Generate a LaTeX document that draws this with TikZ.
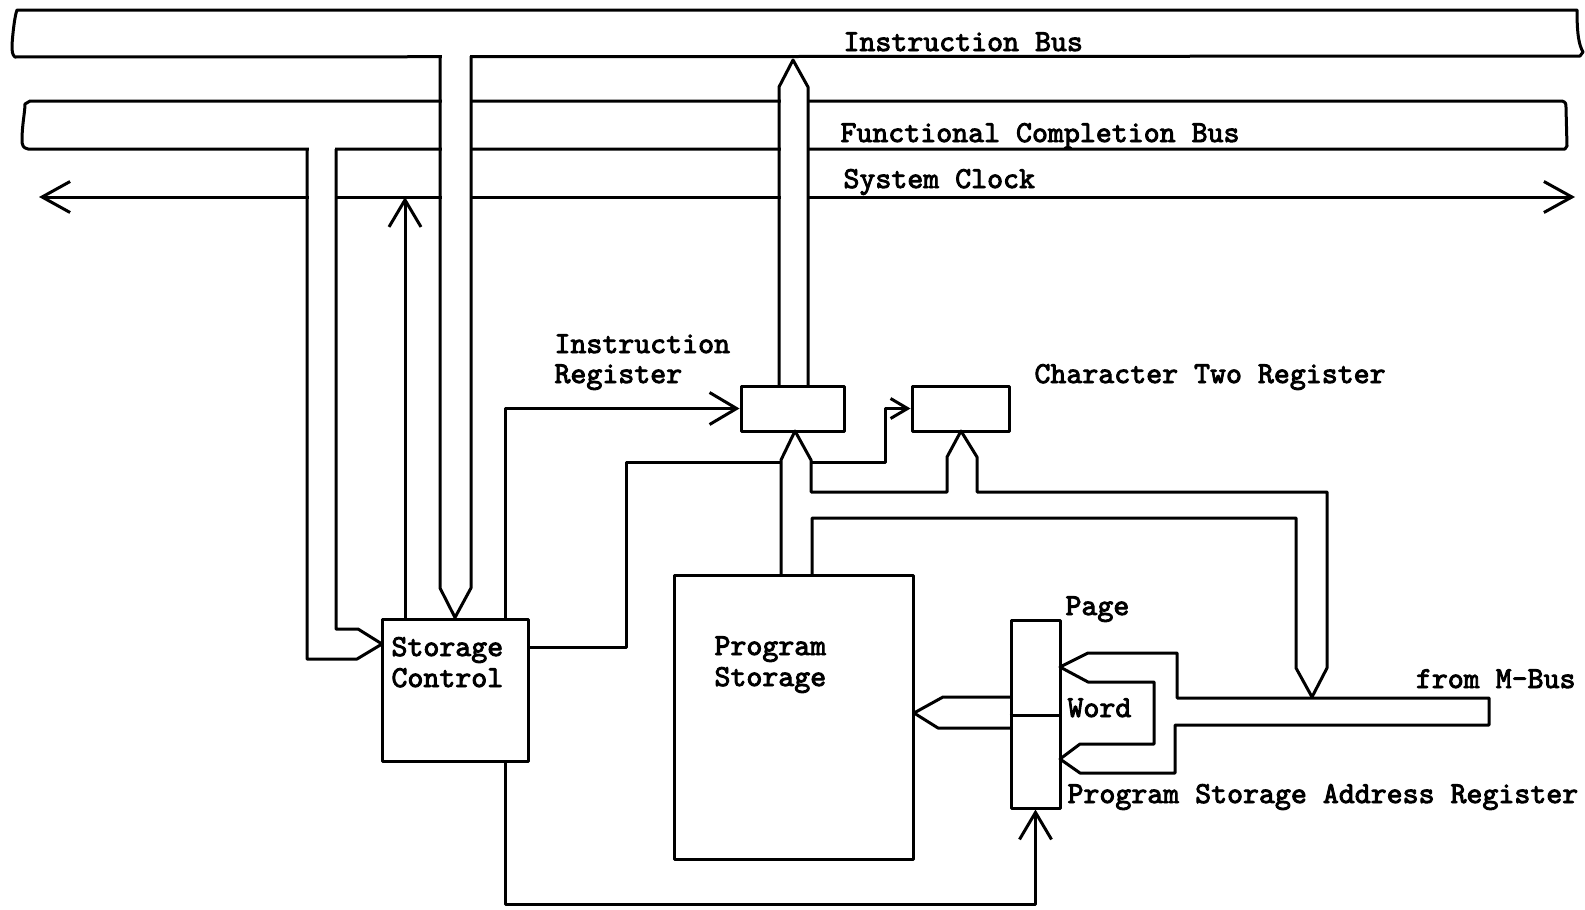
\documentclass[tikz,border=0pt]{standalone}
\usepackage{fontspec}
\usetikzlibrary{arrows.meta}
\newfontfamily\lblff{lmmono10-regular.otf}[FakeBold=3]
\newcommand{\lblfont}{\fontsize{30.4}{31}\selectfont\lblff}
\begin{document}
\begin{tikzpicture}[x=1pt,y=-1pt,line width=3pt,line join=round,
  box/.style={draw,inner sep=0pt,fill=white},
  lbl/.style={inner sep=0pt,anchor=base west,font=\lblfont},
  barb/.style={-{Straight Barb[length=27pt,width=32pt]}},
  smallbarb/.style={-{Straight Barb[length=17pt,width=20pt]}},
  clk/.style={{Straight Barb[length=28pt,width=31pt]}-{Straight Barb[length=28pt,width=31pt]}}]
\useasboundingbox (0,0) rectangle (1585,910);
% ---- horizontal buses
\draw (17,10) -- (1577,10) .. controls (1577,35) and (1579,45) .. (1583,52) -- (1580,56) -- (15,57)
  .. controls (12,55) and (12,50) .. (12,45) .. controls (13,30) and (15,15) .. (17,10) -- cycle;
\draw (30,101) -- (1562,101) .. controls (1566,102) and (1566,104) .. (1566,108) -- (1567,146) -- (1565,149)
  -- (28,149) .. controls (23,148) and (22,145) .. (22,140) .. controls (22,125) and (25,112) .. (25,104) -- cycle;
\coordinate (clkL) at (39,197);
\coordinate (clkR) at (1575,197);
\draw[clk] (clkL) -- (clkR);
% ---- openings where vertical buses cross
\fill[white] (441.5,54) rectangle (469.5,588);
\fill[white] (308.5,146) rectangle (334.5,628);
\fill[white] (780.5,88) rectangle (806.5,384);
% ---- boxes
\node[box,minimum width=146pt,minimum height=142pt] (sc) at (455,690) {};
\node[box,minimum width=239pt,minimum height=284pt] (ps) at (793.5,717) {};
\node[box,minimum width=103pt,minimum height=45pt] (ir) at (792.5,408.5) {};
\node[box,minimum width=97pt,minimum height=45pt] (ctr) at (960.5,408.5) {};
\node[box,minimum width=49pt,minimum height=188pt] (psar) at (1035.5,714) {};
\coordinate (div) at (0,715);
\draw (psar.west |- div) -- (psar.east |- div);
% ---- vertical buses from top
\draw (440,56) -- (440,588) -- (sc.north) -- (471,588) -- (471,56);
\coordinate (scin) at (382,644);
\draw (307,149) -- (307,659) -- (357,659) -- (scin) -- (358,629) -- (336,629) -- (336,149);
\draw (779,386) -- (779,87) -- (793,60) -- (808,87) -- (808,386);
% ---- thin connectors
\coordinate (ck) at (405,197);
\draw[barb] (sc.north -| ck) -- (ck);
\coordinate (c505) at (505,0);
\draw[barb] (sc.north -| c505) -- (c505 |- ir.west) -- (ir.west);
\coordinate (c647) at (0,647);
\draw (sc.east |- c647) -- (626,647) -- (626,462) -- (781,462);
\draw[smallbarb] (811,462) -- (885,462) -- (885,408.5) -- (ctr.west);
\coordinate (bot) at (0,904);
\draw[barb] (sc.south -| c505) -- (c505 |- bot) -- (bot -| psar.south) -- (psar.south);
% ---- program storage / register bus network
\coordinate (irtip) at (795,431);
\coordinate (ctrtip) at (961,431);
\draw (781,575) -- (781,460) -- (irtip) -- (811,460) -- (811,492) -- (947,492) -- (947,457) -- (ctrtip)
  -- (977,457) -- (977,492) -- (1327,492) -- (1327,668) -- (1312,697) -- (1296,668) -- (1296,518)
  -- (812,518) -- (812,575);
% ---- M-bus feed into page/word
\draw (1489,698) -- (1177,698) -- (1177,653) -- (1088,653) -- (1060,667) -- (1088,682) -- (1154,682)
  -- (1154,744) -- (1080,744) -- (1060,759) -- (1080,773) -- (1175,773) -- (1175,725) -- (1489,725) -- cycle;
% ---- register to program storage
\draw (1011,697) -- (943,697) -- (914,713) -- (938,728) -- (1011,728);
% ---- labels
\node[lbl] (tib) at (842,51) {Instruction Bus};
\node[lbl] (tfc) at (839,142) {Functional Completion Bus};
\node[lbl] (tck) at (842,188) {System Clock};
\node[lbl] (tir1) at (553,353) {Instruction};
\node[lbl] (tir2) at (553,383) {Register};
\node[lbl] (tctr) at (1033,383) {Character Two Register};
\node[lbl] (tsc1) at (390,656) {Storage};
\node[lbl] (tsc2) at (390,687) {Control};
\node[lbl] (tps1) at (713,655) {Program};
\node[lbl] (tps2) at (713,686) {Storage};
\node[lbl] (tpage) at (1064,615) {Page};
\node[lbl] (tword) at (1066,717) {Word};
\node[lbl] (tpsar) at (1066,803) {Program Storage Address Register};
\node[lbl,anchor=base east] (tmb) at (1577,688) {from M-Bus};
\end{tikzpicture}
\end{document}
